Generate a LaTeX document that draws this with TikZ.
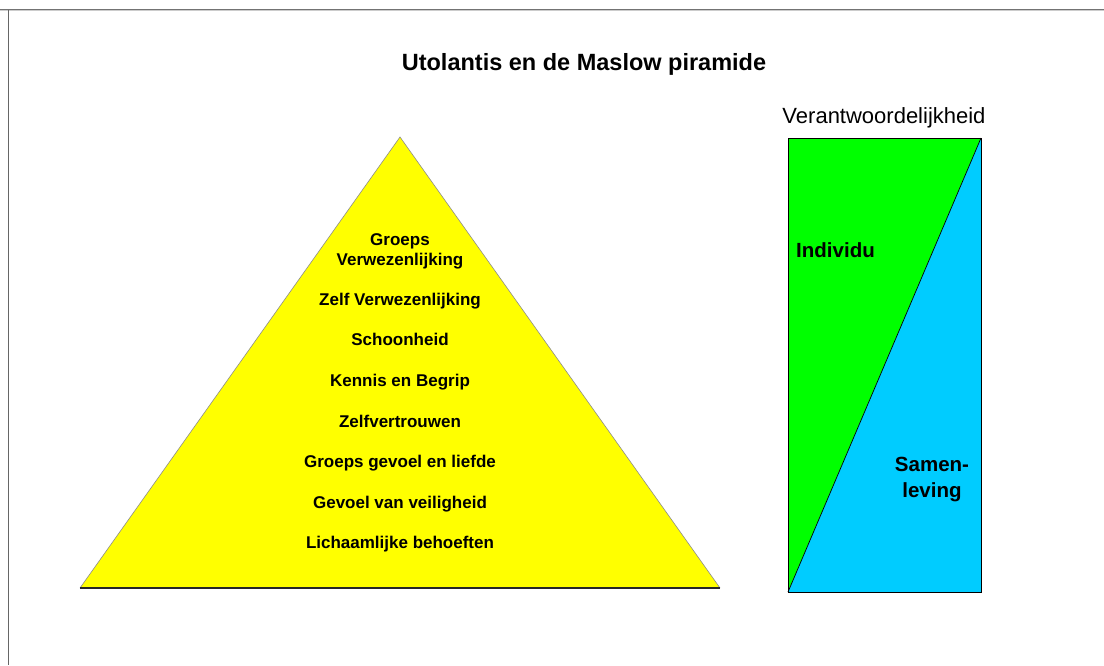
\documentclass[tikz,border=0pt]{standalone}
\usepackage{fontspec}
\setmainfont{Liberation Sans}
\usetikzlibrary{positioning}

\definecolor{skyblue}{RGB}{0,204,255}
\definecolor{pyryellow}{RGB}{255,255,0}
\definecolor{indgreen}{RGB}{0,255,0}

\begin{document}
\begin{tikzpicture}[x=1pt, y=-1pt, node distance=40.6pt, on grid,
    level/.style={font=\bfseries\fontsize{17}{20}\selectfont, align=center, inner sep=0pt},
    flat/.style={level, text height=12pt, text depth=4pt},
    side/.style={font=\bfseries\fontsize{20.5}{26}\selectfont, align=center, inner sep=0pt}]

                        % page and frame
                        \useasboundingbox (0,0) rectangle (1104,665);
                        \fill[white] (0,0) rectangle (1104,665);
                        \draw[black!55, line width=1pt] (0,9) -- (1104,9);
                        \draw[black!20, line width=1.2pt] (0,10.6) -- (1104,10.6);
                        \draw[black!60, line width=0.8pt] (8.5,10) -- (8.5,665);

                        % titles
                        \node (title) [font=\bfseries\fontsize{23.5}{28}\selectfont] at (584,64) {Utolantis en de Maslow piramide};
                        \node (resp) [font=\fontsize{22}{26}\selectfont] at (884,118) {Verantwoordelijkheid};

                        % the pyramid
                        \coordinate (top) at (400,137);
                        \coordinate (bl) at (80,588);
                        \coordinate (br) at (720,588);
                        \fill[pyryellow] (top) -- (br) -- (bl) -- cycle;
                        \draw[black!45, line width=0.6pt] (bl) -- (top) -- (br);
                        \draw[black!85, line width=2.4pt] (bl) -- (br);

                        % levels of the pyramid
                        \node (zelf) [flat] at (400,301.3) {Zelf Verwezenlijking};
                        \node (groeps) [level, above=50.4pt of zelf] {Groeps\\Verwezenlijking};
                        \node (schoon) [flat, below=of zelf] {Schoonheid};
                        \node (kennis) [flat, below=of schoon] {Kennis en Begrip};
                        \node (vertrouwen) [flat, below=of kennis] {Zelfvertrouwen};
                        \node (liefde) [flat, below=of vertrouwen] {Groeps gevoel en liefde};
                        \node (veilig) [flat, below=of liefde] {Gevoel van veiligheid};
                        \node (lichaam) [flat, below=of veilig] {Lichaamlijke behoeften};

                        % the responsibility bar
                        \coordinate (nw) at (788,138);
                        \coordinate (ne) at (981,138);
                        \coordinate (sw) at (788,592);
                        \coordinate (se) at (981,592);
                        \fill[indgreen] (nw) -- (ne) -- (sw) -- cycle;
                        \fill[skyblue] (ne) -- (se) -- (sw) -- cycle;
                        \draw[line width=0.7pt] (sw) -- (ne);
                        \draw[line width=0.9pt] (nw) rectangle (se);

                        \node (indiv) [side, anchor=west] at (796,250) {Individu};
                        \node (samen) [side] at (932,480) {Samen-\\leving};

                \end{tikzpicture}
\end{document}
